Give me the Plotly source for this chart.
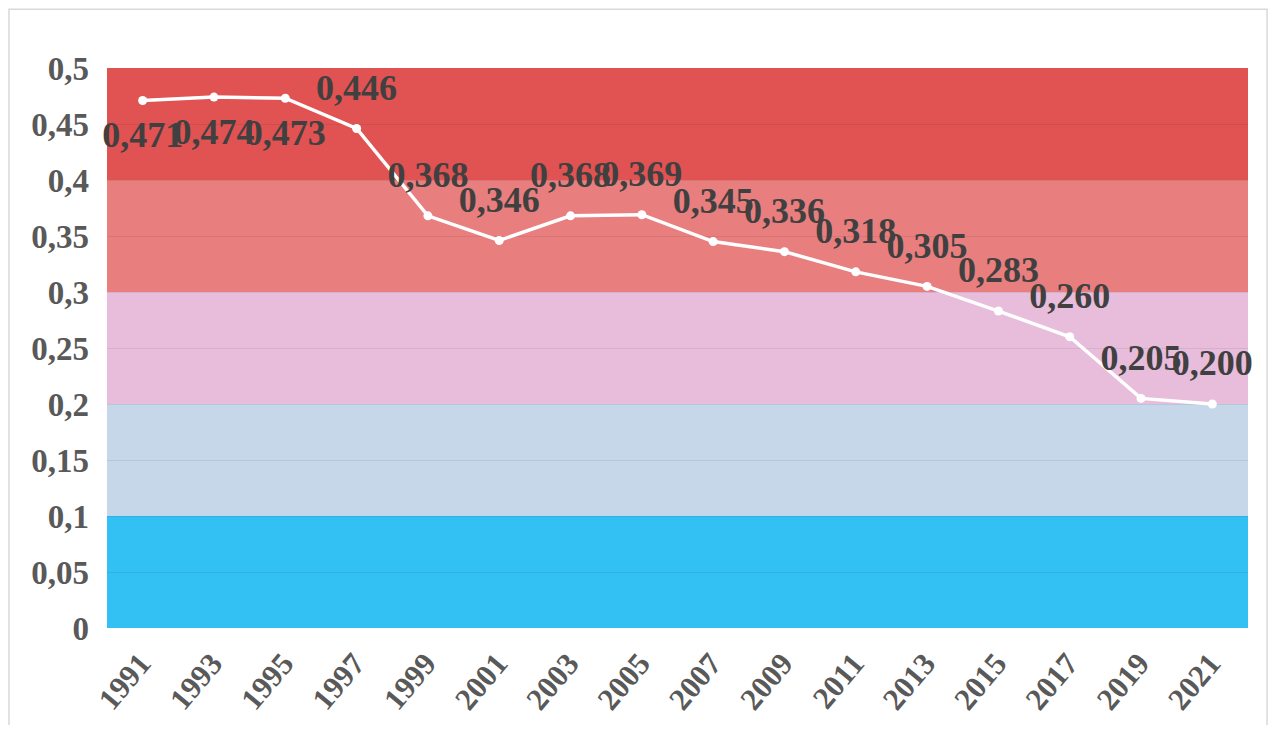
import plotly.graph_objects as go

years = ["1991", "1993", "1995", "1997", "1999", "2001", "2003", "2005",
         "2007", "2009", "2011", "2013", "2015", "2017", "2019", "2021"]
values = [0.471, 0.474, 0.473, 0.446, 0.368, 0.346, 0.368, 0.369,
          0.345, 0.336, 0.318, 0.305, 0.283, 0.260, 0.205, 0.200]
label_pos = ["bottom center"] * 3 + ["top center"] * 13

band_edges = [0.0, 0.1, 0.2, 0.3, 0.4, 0.5]
band_colors = ["#33C0F2", "#C5D7E8", "#E8BCDB", "#E97E7E", "#E15252"]

fig = go.Figure()
fig.add_trace(go.Scatter(
    x=years, y=values,
    mode="lines+markers",
    line=dict(color="white", width=3.5),
    marker=dict(color="white", size=9),
    showlegend=False,
))
fig.add_trace(go.Scatter(
    x=years, y=values,
    mode="markers+text",
    marker=dict(color="rgba(0,0,0,0)", size=30),
    text=values,
    texttemplate="%{y:.3f}",
    textposition=label_pos,
    textfont=dict(family="Liberation Serif", size=36, color="#404040", weight="bold"),
    cliponaxis=False,
    hoverinfo="skip",
    showlegend=False,
))

shapes = []
for i, c in enumerate(band_colors):
    shapes.append(dict(type="rect", xref="paper", yref="y", x0=0, x1=1,
                       y0=band_edges[i], y1=band_edges[i + 1],
                       fillcolor=c, line=dict(width=0), layer="below"))
shapes.append(dict(type="rect", xref="paper", yref="paper",
                   x0=-0.0859, x1=1.0167, y0=-0.25, y1=1.105,
                   line=dict(color="#D9D9D9", width=1.5), fillcolor="rgba(0,0,0,0)"))

fig.update_layout(
    width=1261, height=717,
    margin=dict(l=99, r=21, t=60, b=97),
    paper_bgcolor="white", plot_bgcolor="white",
    separators=", ",
    shapes=shapes,
    xaxis=dict(type="category", range=[-0.5, 15.5], showgrid=False,
               tickangle=-50, showline=False, zeroline=False, automargin=False,
               ticklabelstandoff=10, ticklabelshift=-2,
               tickfont=dict(family="Liberation Serif", size=31, color="#595959", weight="bold")),
    yaxis=dict(range=[0, 0.5], dtick=0.05, showgrid=True, automargin=False,
               gridcolor="rgba(0,0,0,0.07)", zeroline=False, showline=False,
               ticklabelstandoff=17,
               tickfont=dict(family="Liberation Serif", size=33, color="#595959", weight="bold")),
)

fig.write_html("out.html")
